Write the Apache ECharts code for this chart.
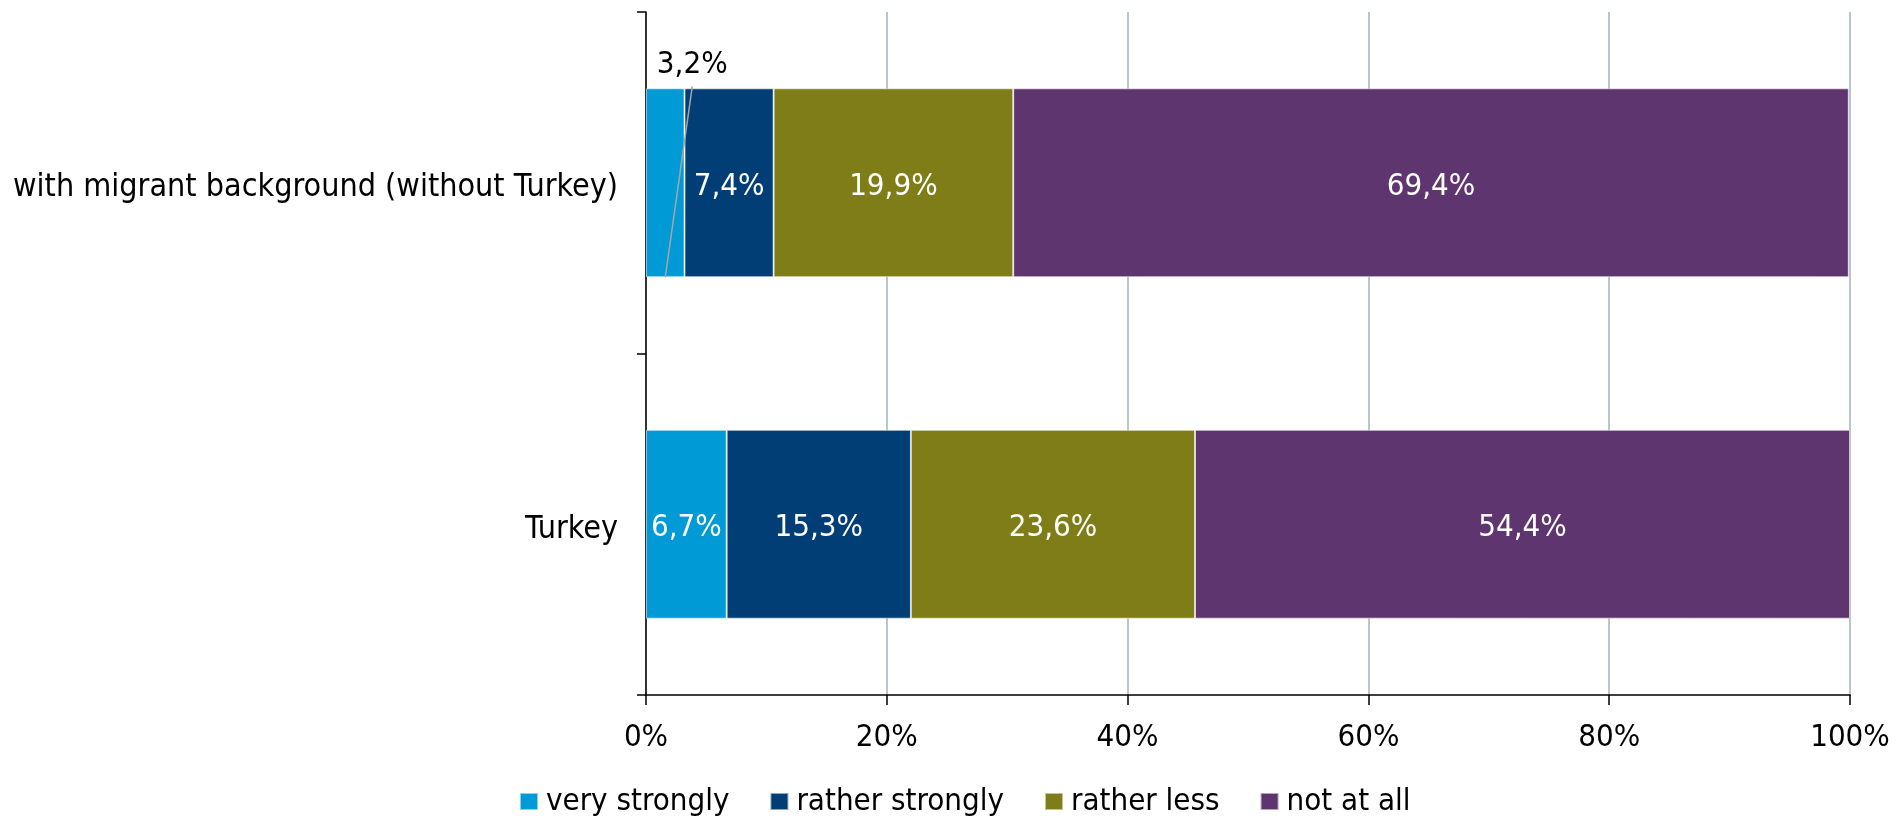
<!DOCTYPE html>
<html>
<head>
<meta charset="utf-8">
<script src="https://cdn.jsdelivr.net/npm/echarts@6/dist/echarts.min.js"></script>
<style>
  html, body { margin: 0; padding: 0; background: #ffffff; }
  #chart { width: 1900px; height: 818px; }
</style>
</head>
<body>
<div id="chart"></div>
<script>
// Categories (top to bottom) and the share of answers per group, in percent
const categories = ['with migrant background (without Turkey)', 'Turkey'];
const seriesNames = ['very strongly', 'rather strongly', 'rather less', 'not at all'];
const veryStrongly = [3.2, 6.7];
const ratherStrongly = [7.4, 15.3];
const ratherLess = [19.9, 23.6];
const notAtAll = [69.4, 54.4];
const tickValues = [0, 20, 40, 60, 80, 100];

const colors = ['#009AD6', '#003E75', '#7F7D17', '#5E356E'];
const FONT = '"DejaVu Sans Condensed", "DejaVu Sans", sans-serif';
const FS = 31;
const BAR_RATIO = 0.553;

const fmt = v => v.toFixed(1).replace('.', ',') + '%';

// small segments get their label lifted above the bar with a leader line
const SMALL = 5;

function barSeries(name, values, color) {
  return {
    name: name,
    type: 'bar',
    stack: 'total',
    barWidth: (BAR_RATIO * 100) + '%',
    itemStyle: { color: color, borderColor: 'rgba(255,255,255,0.55)', borderWidth: 1 },
    label: {
      show: true,
      position: 'inside',
      offset: [0, 4],
      color: '#ffffff',
      fontFamily: FONT,
      fontSize: FS,
      formatter: p => fmt(p.value)
    },
    emphasis: { disabled: true },
    data: values.map(v => v < SMALL ? {
      value: v,
      label: { position: 'top', color: '#000000', offset: [27, -3], distance: 5 }
    } : v)
  };
}

// leader line for labels of narrow segments
const leaderData = [];
veryStrongly.forEach((v, i) => { if (v < SMALL) leaderData.push([v, i]); });

const chart = echarts.init(document.getElementById('chart'), null, { renderer: 'canvas' });
chart.setOption({
  animation: false,
  textStyle: { fontFamily: FONT },
  grid: { left: 646, right: 50, top: 12, bottom: 123, containLabel: false },
  xAxis: {
    type: 'value',
    min: 0,
    max: 100,
    interval: 20,
    axisLine: { show: true, lineStyle: { color: '#000000', width: 1.5 } },
    axisTick: { show: true, length: 10, lineStyle: { color: '#000000', width: 1.5 } },
    axisLabel: {
      color: '#000000', fontFamily: FONT, fontSize: FS, margin: 27,
      formatter: v => tickValues.includes(v) ? v + '%' : ''
    },
    splitLine: { show: true, lineStyle: { color: '#A3B3B8', width: 1.5 } }
  },
  yAxis: {
    type: 'category',
    inverse: true,
    data: categories,
    axisLine: { show: true, lineStyle: { color: '#000000', width: 1.5 } },
    axisTick: { show: true, length: 9, lineStyle: { color: '#000000', width: 1.5 } },
    axisLabel: {
      color: '#000000', fontFamily: FONT, fontSize: 32, margin: 28,
      formatter: v => '{c|' + v + '}',
      rich: { c: { fontFamily: FONT, fontSize: 32, color: '#000000', padding: [10, 0, 0, 0] } }
    },
    splitLine: { show: false }
  },
  legend: {
    data: seriesNames,
    left: 514,
    bottom: -4,
    icon: 'rect',
    itemWidth: 18,
    itemHeight: 17,
    itemGap: 40,
    textStyle: { color: '#000000', fontFamily: FONT, fontSize: FS, padding: [0, 0, 0, 3] }
  },
  series: [
    barSeries(seriesNames[0], veryStrongly, colors[0]),
    barSeries(seriesNames[1], ratherStrongly, colors[1]),
    barSeries(seriesNames[2], ratherLess, colors[2]),
    barSeries(seriesNames[3], notAtAll, colors[3]),
    {
      type: 'custom',
      silent: true,
      z: 10,
      data: leaderData,
      renderItem: function (params, api) {
        const v = api.value(0);
        const c = api.coord([v / 2, api.value(1)]);
        const half = api.size([0, 1])[1] * BAR_RATIO / 2;
        return {
          type: 'line',
          shape: { x1: c[0], y1: c[1] + half, x2: c[0] + 27, y2: c[1] - half - 2 },
          style: { stroke: '#A6A6A6', lineWidth: 1.5 }
        };
      }
    }
  ]
});
</script>
</body>
</html>
